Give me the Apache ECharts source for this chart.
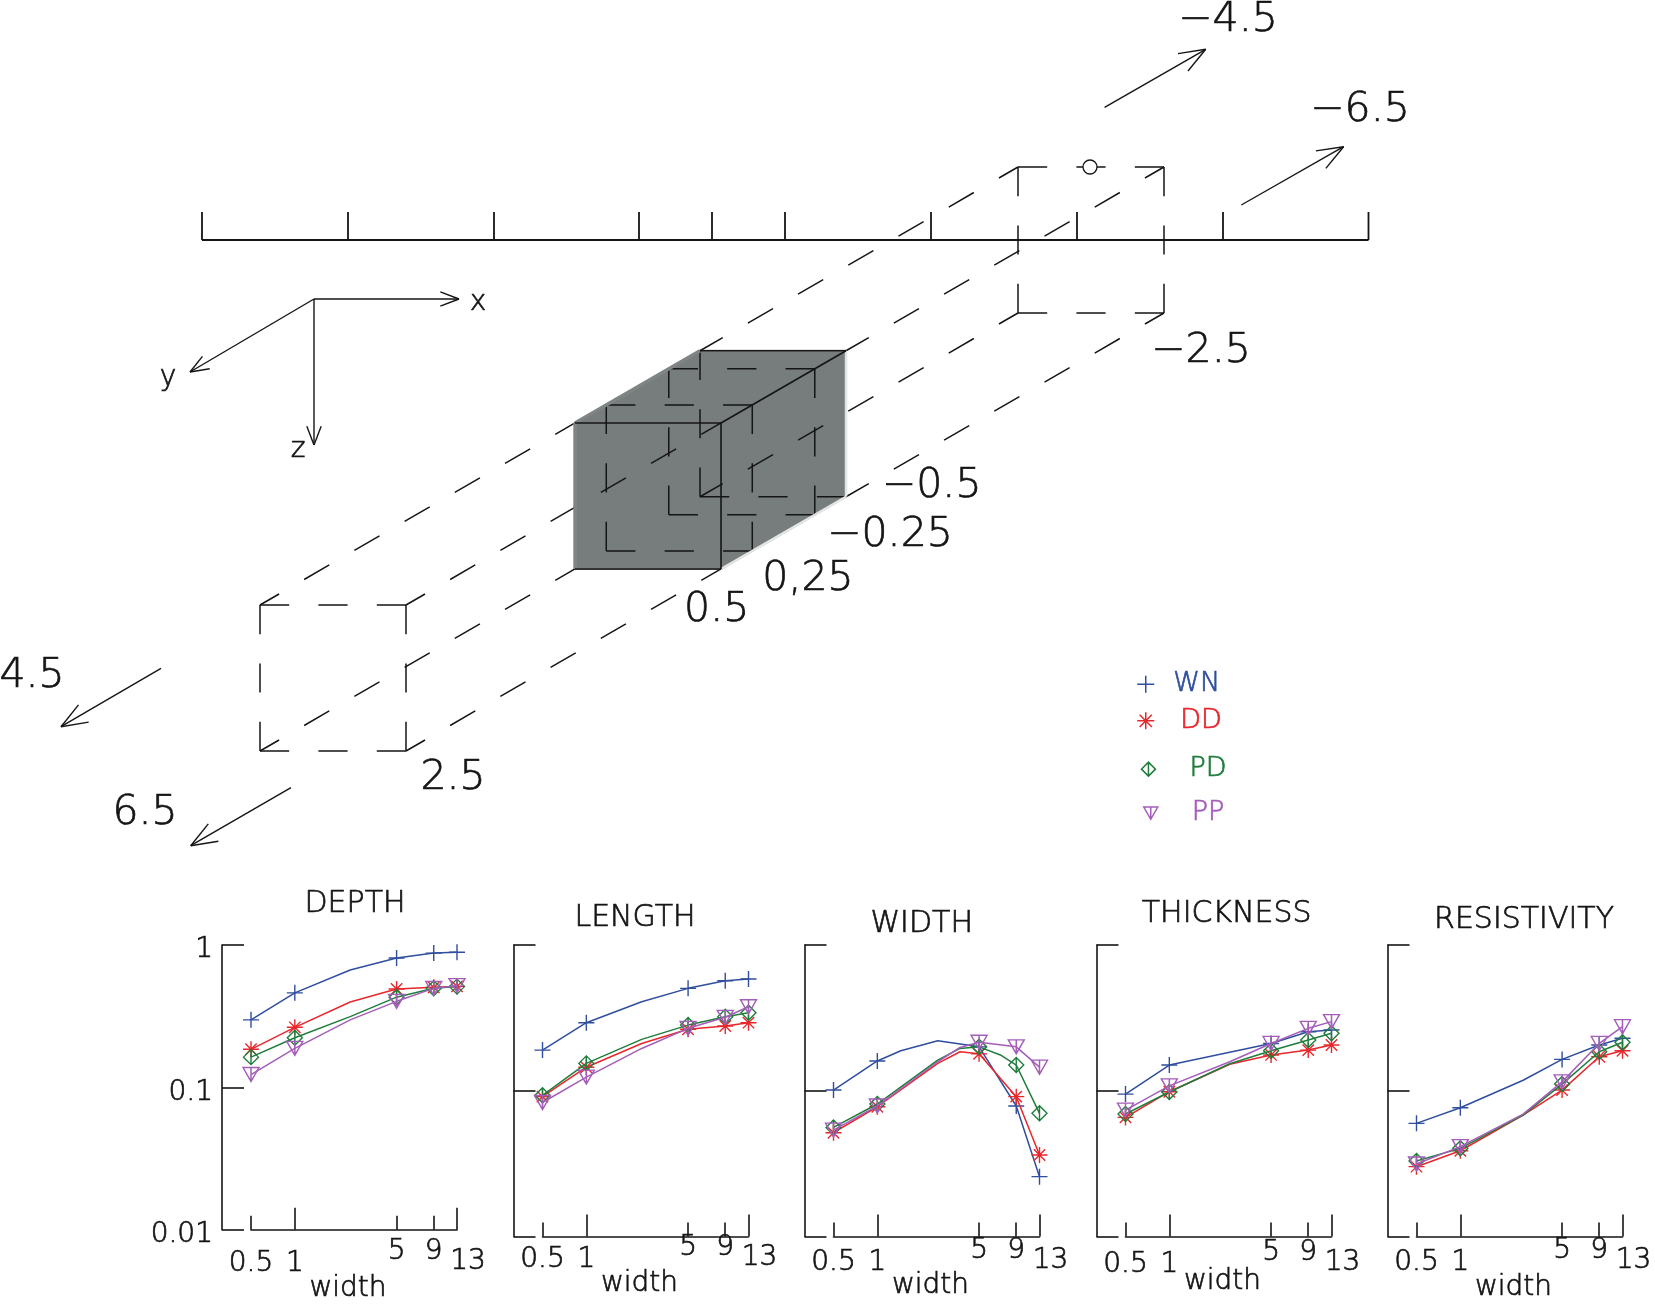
<!DOCTYPE html>
<html>
<head>
<meta charset="utf-8">
<title>Sensitivity to width</title>
<script src="https://cdn.jsdelivr.net/npm/echarts@6/dist/echarts.min.js"></script>
<style>
  html, body { margin: 0; padding: 0; background: #fff; }
  #chart { width: 1655px; height: 1304px; }
</style>
</head>
<body>
<div id="chart"></div>
<script>
// ---- data ----
const panelTitles = ['DEPTH', 'LENGTH', 'WIDTH', 'THICKNESS', 'RESISTIVITY'];
const methods = ['WN', 'DD', 'PD', 'PP'];
const widthTicks = [0.5, 1, 5, 9, 13];   // marked widths, the other x are plain line vertices

const depthX = [0.5, 1, 2.4, 5, 9, 13];
const depthWN = [0.298, 0.461, 0.667, 0.81, 0.877, 0.89];
const depthDD = [0.185, 0.264, 0.398, 0.491, 0.504, 0.512];
const depthPD = [0.163, 0.223, 0.314, 0.43, 0.496, 0.51];
const depthPP = [0.123, 0.188, 0.298, 0.402, 0.496, 0.518];

const lengthX = [0.5, 1, 2.4, 5, 9, 13];
const lengthWN = [0.19, 0.293, 0.408, 0.504, 0.569, 0.584];
const lengthDD = [0.091, 0.145, 0.211, 0.264, 0.278, 0.293];
const lengthPD = [0.093, 0.154, 0.225, 0.282, 0.322, 0.343];
const lengthPP = [0.083, 0.124, 0.195, 0.268, 0.319, 0.377];

const widthX = [0.5, 1, 1.45, 2.6, 3.7, 5, 7, 9, 13];
const widthWN = [0.101, 0.16, 0.188, 0.22, null, 0.2, null, 0.0785, 0.0257];
const widthDD = [0.0515, 0.0776, null, 0.154, 0.185, 0.179, null, 0.091, 0.0362];
const widthPD = [0.056, 0.081, null, 0.162, 0.195, 0.2, 0.176, 0.15, 0.0699];
const widthPP = [0.0537, 0.0785, null, 0.158, 0.198, 0.215, null, 0.2, 0.145];

const thickX = [0.5, 1, 2.6, 5, 9, 13];
const thickWN = [0.0948, 0.15, null, 0.211, 0.254, 0.261];
const thickDD = [0.0656, 0.0984, 0.152, 0.176, 0.19, 0.206];
const thickPD = [0.0692, 0.098, 0.153, 0.188, 0.223, 0.248];
const thickPP = [0.0736, 0.108, 0.158, 0.211, 0.268, 0.298];

const resX = [0.5, 1, 2.7, 5, 9, 13];
const resWN = [0.0597, 0.0764, 0.118, 0.164, 0.206, 0.229];
const resDD = [0.0301, 0.0387, 0.068, 0.101, 0.171, 0.188];
const resPD = [0.0329, 0.0402, 0.068, 0.111, 0.185, 0.215];
const resPP = [0.0314, 0.0413, 0.069, 0.115, 0.211, 0.275];

const panelX = [depthX, lengthX, widthX, thickX, resX];
const panelValues = [
  [depthWN, depthDD, depthPD, depthPP],
  [lengthWN, lengthDD, lengthPD, lengthPP],
  [widthWN, widthDD, widthPD, widthPP],
  [thickWN, thickDD, thickPD, thickPP],
  [resWN, resDD, resPD, resPP]
];

// ---- sketch of the survey (pixel units of the page) ----
const rulerY = 240;
const rulerTickTop = 212;
const rulerTicks = [202, 348, 494, 639, 712, 785, 931, 1077, 1223, 1368.5];
const prismFront = [260, 605];      // front dashed section, top-left corner
const prismSide = 146;
const prismDepth = [758, -438];     // front section -> back section
const cubeSpan = [0.4156, 0.5805];  // body position along the prism
const markerCircle = [1090, 167, 7];
const arrows = [
  { from: [1104.6, 107.3], to: [1205.7, 49.3], head: 28 },
  { from: [1241.3, 205], to: [1343.6, 146.7], head: 28 },
  { from: [161, 668.3], to: [61, 726.7], head: 28 },
  { from: [291, 787.7], to: [190.7, 845.7], head: 28 },
  { from: [314, 299], to: [459, 299], head: 20 },
  { from: [314, 299], to: [190, 372], head: 20 },
  { from: [314, 299], to: [314, 445], head: 20 }
];
const sketchLabels = [
  { text: '\u22124.5', x: 1228, y: 20, size: 41 },
  { text: '\u22126.5', x: 1360, y: 110.5, size: 41 },
  { text: '\u22122.5', x: 1201, y: 351, size: 41 },
  { text: '4.5', x: 32, y: 676, size: 41 },
  { text: '6.5', x: 145, y: 813.5, size: 41 },
  { text: '2.5', x: 453, y: 778.5, size: 41 },
  { text: '0.5', x: 716.7, y: 610, size: 41 },
  { text: '0,25', x: 808, y: 579, size: 41 },
  { text: '\u22120.25', x: 890, y: 535.5, size: 41 },
  { text: '\u22120.5', x: 931.7, y: 486.5, size: 41 },
  { text: 'x', x: 478, y: 302.5, size: 28 },
  { text: 'y', x: 168, y: 377.5, size: 28 },
  { text: 'z', x: 298, y: 449.5, size: 28 }
];

// ---- style ----
const FONT = 'DejaVu Sans';
const FW = 200;
const INK = '#151515';
const TB = 0.7;   // thin outline to give the light face a little more weight
const methodColors = ['#2f4e9e', '#e8262c', '#1f7d3c', '#a45db8'];
const methodSymbols = [
  'path://M0,8L16,8M8,0L8,16',
  'path://M0,8L16,8M8,0L8,16M2.3,2.3L13.7,13.7M13.7,2.3L2.3,13.7',
  'path://M8,0L16,8L8,16L0,8ZM8,0L8,16',
  'path://M0,0L16,0L8,14ZM8,0L8,14'
];
const methodSymbolSizes = [[16, 16], [16, 16], [15, 15], [16, 14]];

const gridLefts = [251, 542.5, 833.5, 1125.5, 1416.5];
const gridTop = 945, gridW = 206, gridH = 291.4;
const titlePos = [[355, 904], [635, 918], [921.7, 924], [1226.7, 914.5], [1524, 920.5]];
const widthNameGap = [45, 33, 35.5, 31, 37];
const tickLabelMargin = [8, -3, 0, 2, 0];

const legendPos = [[1145, 685.3, 17, 14], [1145, 722, 17, 21], [1147.7, 770.3, 14, 29], [1150, 814.3, 14, 29]];

// ---- build ----
const grids = [], xAxes = [], yAxes = [], series = [], graphics = [];
const tickLine = { color: INK, width: 1.6 };
const labelText = { color: INK, fontFamily: FONT, fontWeight: FW, fontSize: 28, textBorderColor: INK, textBorderWidth: TB };

panelTitles.forEach((title, p) => {
  grids.push({ left: gridLefts[p], top: gridTop, width: gridW, height: gridH });
  xAxes.push({
    gridIndex: p, type: 'log', logBase: 10, min: 0.5, max: 13, position: 'bottom',
    name: 'width', nameLocation: 'middle', nameGap: widthNameGap[p], nameMoveOverlap: false,
    nameTextStyle: Object.assign({ padding: [0, 12, 0, 0] }, labelText),
    axisLine: { show: true, lineStyle: tickLine },
    axisTick: { show: true, inside: true, length: 22, customValues: [1, 13], lineStyle: tickLine },
    axisLabel: Object.assign({
      show: true, customValues: widthTicks, margin: tickLabelMargin[p],
      formatter: v => (v === 5 || v === 9 ? '{h|' + v + '}' : v === 13 ? '{s|13}' : '{d|' + v + '}'),
      rich: {
        h: Object.assign({}, labelText),
        d: Object.assign({ padding: [12, 0, 0, 0] }, labelText),
        s: Object.assign({ padding: [10, 0, 0, 22] }, labelText)
      }
    }, labelText),
    splitLine: { show: false }
  });
  xAxes.push({
    gridIndex: p, type: 'log', logBase: 10, min: 0.5, max: 13, position: 'bottom',
    axisLine: { show: false },
    axisTick: { show: true, inside: true, length: 14, customValues: [0.5, 5, 9], lineStyle: tickLine },
    axisLabel: { show: false },
    splitLine: { show: false }
  });
  yAxes.push({
    gridIndex: p, type: 'log', logBase: 10, min: 0.01, max: 1, offset: 29,
    axisLine: { show: true, lineStyle: tickLine },
    axisTick: { show: true, inside: true, length: 22, lineStyle: tickLine },
    axisLabel: Object.assign({
      show: p === 0, margin: 9,
      formatter: v => '{v|' + v + '}',
      rich: { v: Object.assign({ padding: [10, 0, 0, 0] }, labelText) }
    }, labelText),
    splitLine: { show: false }
  });

  methods.forEach((m, k) => {
    const xs = panelX[p], vals = panelValues[p][k];
    const data = [];
    xs.forEach((x, i) => {
      if (vals[i] == null) return;
      const item = { value: [x, vals[i]] };
      if (widthTicks.indexOf(x) < 0) item.symbol = 'none';
      data.push(item);
    });
    series.push({
      type: 'line', name: m, xAxisIndex: 2 * p, yAxisIndex: p, data,
      symbol: methodSymbols[k], symbolSize: methodSymbolSizes[k], showAllSymbol: true,
      itemStyle: { color: 'transparent', borderColor: methodColors[k], borderWidth: 1.4 },
      lineStyle: { color: methodColors[k], width: 1.5 },
      emphasis: { disabled: true }, silent: true, animation: false, z: 3 + k
    });
  });

  graphics.push({
    type: 'text', x: titlePos[p][0], y: titlePos[p][1], silent: true,
    style: { text: title, fill: INK, stroke: INK, lineWidth: TB, fontFamily: FONT, fontWeight: FW,
             fontSize: 30, align: 'center', verticalAlign: 'middle' }
  });
});

// hidden full-page grid carrying the survey sketch
const SG = panelTitles.length;
grids.push({ left: 0, top: 0, width: 1655, height: 1304 });
xAxes.push({ gridIndex: SG, type: 'value', min: 0, max: 1655, show: false });
yAxes.push({ gridIndex: SG, type: 'value', min: 0, max: 1304, inverse: true, show: false });
const sxi = xAxes.length - 1, syi = yAxes.length - 1;

function P(t, u, v) {
  return [prismFront[0] + u * prismSide + t * prismDepth[0],
          prismFront[1] + v * prismSide + t * prismDepth[1]];
}
function seg(a, b) { return [a[0], a[1], b[0], b[1]]; }
function square(t) {
  return [seg(P(t, 0, 0), P(t, 1, 0)), seg(P(t, 1, 0), P(t, 1, 1)),
          seg(P(t, 0, 0), P(t, 0, 1)), seg(P(t, 0, 1), P(t, 1, 1))];
}
const t0 = cubeSpan[0], t1 = cubeSpan[1];
const corners = [[0, 0], [1, 0], [1, 1], [0, 1]];

const longDashed = [];
corners.forEach(c => {
  longDashed.push(seg(P(0, c[0], c[1]), P(t0, c[0], c[1])));
  longDashed.push(seg(P(1, c[0], c[1]), P(t1, c[0], c[1])));
});
const sectionDashed = [].concat(
  square(0), square(1),
  square(t0 + 0.25 * (t1 - t0)), square(t0 + 0.75 * (t1 - t0)),
  [seg(P(t1, 0, 0), P(t1, 0, 1)), seg(P(t1, 0, 1), P(t1, 1, 1))]
);
const cubeBlack = [
  seg(P(t0, 0, 0), P(t0, 1, 0)), seg(P(t0, 1, 0), P(t0, 1, 1)), seg(P(t0, 0, 1), P(t0, 1, 1)),
  seg(P(t0, 1, 0), P(t1, 1, 0)), seg(P(t1, 0, 0), P(t1, 1, 0))
];
const cubeGray = [seg(P(t0, 0, 0), P(t1, 0, 0)), seg(P(t0, 0, 0), P(t0, 0, 1))];
const cubeLight = [seg(P(t0, 1, 1), P(t1, 1, 1)), seg(P(t1, 1, 0), P(t1, 1, 1))];
const cubeOutline = [P(t0, 0, 1), P(t0, 0, 0), P(t1, 0, 0), P(t1, 1, 0), P(t1, 1, 1), P(t0, 1, 1)];
const rulerSegs = [[rulerTicks[0], rulerY, rulerTicks[rulerTicks.length - 1], rulerY]]
  .concat(rulerTicks.map(x => [x, rulerY, x, rulerTickTop]));

function segmentSeries(segs, style, z) {
  return {
    type: 'custom', xAxisIndex: sxi, yAxisIndex: syi, silent: true, animation: false, z,
    data: segs,
    renderItem: (params, api) => {
      const a = api.coord([api.value(0), api.value(1)]);
      const b = api.coord([api.value(2), api.value(3)]);
      return { type: 'line', shape: { x1: a[0], y1: a[1], x2: b[0], y2: b[1] },
               style: Object.assign({ fill: null }, style) };
    }
  };
}

series.push({
  type: 'custom', xAxisIndex: sxi, yAxisIndex: syi, silent: true, animation: false, z: 1,
  data: [[0, 0]],
  renderItem: (params, api) => ({
    type: 'polygon',
    shape: { points: cubeOutline.map(pt => api.coord(pt)) },
    style: { fill: '#777c7c', stroke: '#8b9090', lineWidth: 2 }
  })
});
series.push(segmentSeries(longDashed, { stroke: INK, lineWidth: 1.5, lineDash: [29, 29], lineDashOffset: 7 }, 2));
series.push(segmentSeries(sectionDashed, { stroke: INK, lineWidth: 1.5, lineDash: [29.2, 29.2] }, 2));
series.push(segmentSeries(cubeGray, { stroke: '#7f8585', lineWidth: 3.5 }, 3));
series.push(segmentSeries(cubeLight, { stroke: '#e4e6e6', lineWidth: 2.5 }, 3));
series.push(segmentSeries(cubeBlack, { stroke: INK, lineWidth: 1.6 }, 4));
series.push(segmentSeries(rulerSegs, { stroke: INK, lineWidth: 1.8 }, 4));

series.push({
  type: 'custom', xAxisIndex: sxi, yAxisIndex: syi, silent: true, animation: false, z: 4,
  data: arrows.map(a => [a.from[0], a.from[1], a.to[0], a.to[1]]),
  renderItem: (params, api) => {
    const a = api.coord([api.value(0), api.value(1)]);
    const b = api.coord([api.value(2), api.value(3)]);
    const h = arrows[params.dataIndex].head;
    const ang = Math.atan2(a[1] - b[1], a[0] - b[0]);
    const spread = 21 * Math.PI / 180;
    const st = { stroke: INK, lineWidth: 1.4, fill: null };
    const barb = s => ({ type: 'line', shape: { x1: b[0], y1: b[1],
      x2: b[0] + h * Math.cos(ang + s), y2: b[1] + h * Math.sin(ang + s) }, style: st });
    return { type: 'group', children: [
      { type: 'line', shape: { x1: a[0], y1: a[1], x2: b[0], y2: b[1] }, style: st },
      barb(spread), barb(-spread)
    ] };
  }
});

series.push({
  type: 'custom', xAxisIndex: sxi, yAxisIndex: syi, silent: true, animation: false, z: 4,
  data: [[markerCircle[0], markerCircle[1]]],
  renderItem: (params, api) => {
    const c = api.coord([api.value(0), api.value(1)]);
    return { type: 'circle', shape: { cx: c[0], cy: c[1], r: markerCircle[2] },
             style: { fill: '#fff', stroke: INK, lineWidth: 1.3 } };
  }
});

series.push({
  type: 'custom', xAxisIndex: sxi, yAxisIndex: syi, silent: true, animation: false, z: 5,
  data: sketchLabels.map(l => [l.x, l.y]),
  renderItem: (params, api) => {
    const l = sketchLabels[params.dataIndex];
    const c = api.coord([api.value(0), api.value(1)]);
    return { type: 'text', x: c[0], y: c[1],
             style: { text: l.text, fill: INK, stroke: INK, lineWidth: TB, fontFamily: FONT, fontWeight: FW,
                      fontSize: l.size, align: 'center', verticalAlign: 'middle' } };
  }
});

const legends = methods.map((m, k) => ({
  data: [{ name: m, icon: methodSymbols[k] }],
  left: legendPos[k][0] - legendPos[k][2] / 2,
  top: legendPos[k][1] - 15,
  padding: 0, selectedMode: false,
  itemWidth: legendPos[k][2], itemHeight: legendPos[k][2],
  itemStyle: { color: 'transparent', borderColor: methodColors[k], borderWidth: 1.5 },
  textStyle: { color: methodColors[k], fontFamily: FONT, fontWeight: FW, fontSize: 27,
               textBorderColor: methodColors[k], textBorderWidth: TB,
               padding: [0, 0, 0, legendPos[k][3]] }
}));

const chart = echarts.init(document.getElementById('chart'));
chart.setOption({
  backgroundColor: '#fff',
  animation: false,
  grid: grids,
  xAxis: xAxes,
  yAxis: yAxes,
  legend: legends,
  graphic: graphics,
  series
});
</script>
</body>
</html>
